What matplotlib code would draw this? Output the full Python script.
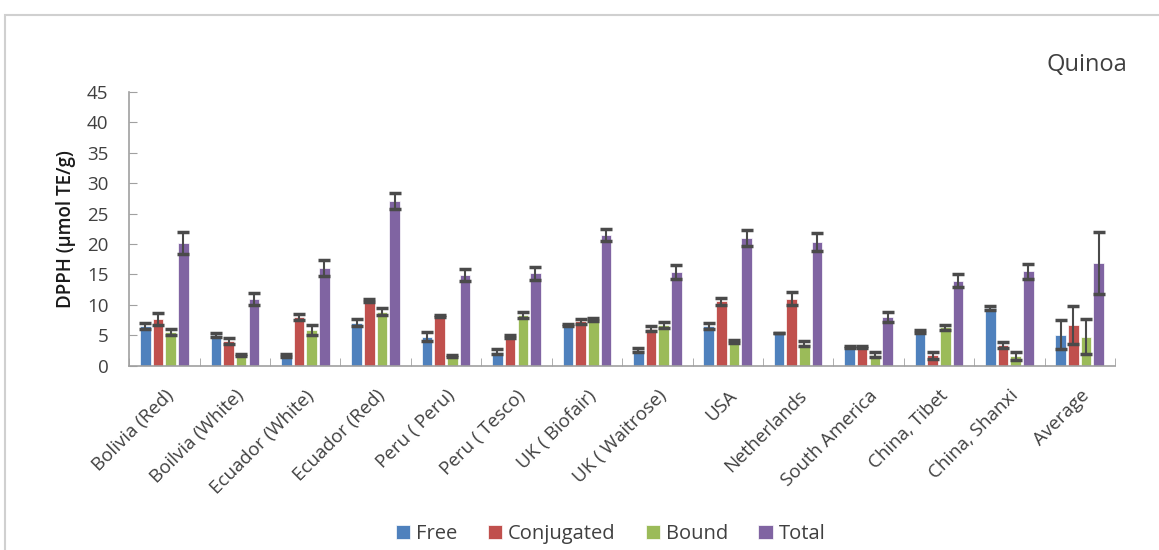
import numpy as np
import matplotlib.pyplot as plt
from matplotlib.patches import Rectangle

plt.rcParams['font.family'] = ['Open Sans', 'DejaVu Sans']

categories = ["Bolivia (Red)", "Boilvia (White)", "Ecuador (White)", "Ecuador (Red)",
              "Peru ( Peru)", "Peru ( Tesco)", "UK ( Biofair)", "UK ( Waitrose)",
              "USA", "Netherlands", "South America", "China, Tibet", "China, Shanxi",
              "Average"]

free = [6.6, 5.1, 1.7, 7.1, 4.8, 2.3, 6.7, 2.6, 6.5, 5.4, 3.1, 5.6, 9.5, 5.1]
free_err = [0.5, 0.3, 0.3, 0.6, 0.7, 0.4, 0.2, 0.3, 0.5, 0.0, 0.2, 0.2, 0.3, 2.4]
conj = [7.7, 4.0, 8.0, 10.7, 8.2, 4.8, 7.3, 6.1, 10.6, 11.0, 3.1, 1.7, 3.4, 6.7]
conj_err = [1.0, 0.5, 0.5, 0.2, 0.2, 0.3, 0.4, 0.4, 0.6, 1.1, 0.2, 0.6, 0.5, 3.1]
bound = [5.6, 1.8, 5.9, 8.9, 1.6, 8.3, 7.6, 6.7, 4.0, 3.6, 1.8, 6.3, 1.6, 4.8]
bound_err = [0.5, 0.2, 0.8, 0.6, 0.2, 0.5, 0.3, 0.5, 0.2, 0.4, 0.4, 0.4, 0.6, 2.8]
total = [20.2, 10.9, 16.0, 27.0, 14.9, 15.2, 21.5, 15.4, 21.0, 20.3, 8.0, 14.0, 15.5, 16.9]
total_err = [1.8, 1.0, 1.3, 1.3, 1.0, 1.1, 1.0, 1.2, 1.3, 1.5, 0.8, 1.0, 1.2, 5.1]

series = [("Free", free, free_err, "#4F81BD"),
          ("Conjugated", conj, conj_err, "#C0504D"),
          ("Bound", bound, bound_err, "#9BBB59"),
          ("Total", total, total_err, "#8064A2")]

fig = plt.figure(figsize=(11.59, 5.5), dpi=100)
fig.patches.append(Rectangle((0.004, -0.01), 1.2, 0.983, transform=fig.transFigure,
                             fill=False, edgecolor="#D0D0D0", linewidth=1.5))
ax = fig.add_axes([0.1115, 0.335, 0.8505, 0.498])

x = np.arange(len(categories))
step = 0.18
width = 0.15
for i, (name, vals, errs, col) in enumerate(series):
    pos = x + (i - 1.5) * step
    ax.bar(pos, vals, width, color=col, edgecolor="white", linewidth=0.5, label=name)
    ax.errorbar(pos, vals, yerr=errs, fmt="none", ecolor="#4A4A4A",
                elinewidth=1.5, capsize=4, capthick=2.5)

ax.set_xlim(-0.5, len(categories) - 0.5)
ax.set_ylim(0, 45)
ax.set_yticks(np.arange(0, 46, 5))
ax.set_xticks(x)
ax.set_xticklabels(categories, rotation=45, ha="right", rotation_mode="anchor",
                   fontsize=13.5, color="#404040")
ax.set_xticks(np.arange(-0.5, len(categories)), minor=True)
ax.tick_params(axis="x", which="major", length=0, pad=15)
ax.tick_params(axis="x", which="minor", direction="in", length=6, color="#A0A0A0")
ax.tick_params(axis="y", direction="in", length=6, color="#A0A0A0", pad=15,
               labelsize=13.5, labelcolor="#404040")
for s in ["top", "right"]:
    ax.spines[s].set_visible(False)
for s in ["left", "bottom"]:
    ax.spines[s].set_color("#A0A0A0")
    ax.spines[s].set_linewidth(1.2)

ax.set_ylabel("DPPH (µmol TE/g)", fontsize=13.5, fontweight="semibold",
              color="#1A1A1A", labelpad=8)

fig.text(0.938, 0.882, "Quinoa", fontsize=17, color="#404040", ha="center", va="center")

fig.legend(loc="lower center", ncol=4, bbox_to_anchor=(0.527, -0.022), frameon=False,
           fontsize=14.5, handlelength=0.7, handleheight=0.7, handletextpad=0.3,
           columnspacing=1.5, labelcolor="#404040")

fig.savefig("out.png", dpi=100)
